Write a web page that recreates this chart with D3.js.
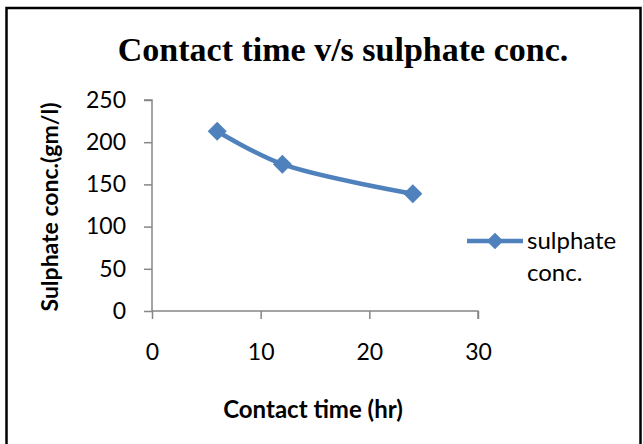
<!DOCTYPE html>
<html>
<head>
<meta charset="utf-8">
<script src="https://cdn.jsdelivr.net/npm/d3@7"></script>
<style>
  body { margin: 0; background: #ffffff; }
  svg { display: block; }
</style>
</head>
<body>
<div id="chart"></div>
<script>
"use strict";

const contactTime = [6, 12, 24];
const sulphateConc = [213, 174, 139];
const xTicks = [0, 10, 20, 30];
const yTicks = [0, 50, 100, 150, 200, 250];
const seriesName = ["sulphate", "conc."];

const blue = "#4F81BD";
const axisGrey = "#868686";
const labelFont = "Lato, 'Open Sans', sans-serif";

const svg = d3.select("#chart")
    .append("svg")
    .attr("width", 643)
    .attr("height", 444);

// chart frame (runs off the bottom of the picture)
svg.append("rect")
    .attr("x", 6.5)
    .attr("y", 8)
    .attr("width", 634)
    .attr("height", 460)
    .attr("fill", "#ffffff")
    .attr("stroke", "#000")
    .attr("stroke-width", 2.5);

svg.append("text")
    .attr("x", 343)
    .attr("y", 61)
    .attr("text-anchor", "middle")
    .attr("font-family", "'Liberation Serif', 'Times New Roman', serif")
    .attr("font-weight", "bold")
    .attr("font-size", 34)
    .text("Contact time v/s sulphate conc.");

const x = d3.scaleLinear()
    .domain([0, 30])
    .range([152, 478]);

const y = d3.scaleLinear()
    .domain([0, 250])
    .range([311, 100]);

// y axis
const yAxis = svg.append("g")
    .attr("transform", "translate(" + x(0) + ",0)")
    .call(d3.axisLeft(y).tickValues(yTicks).tickSize(8).tickPadding(18).tickFormat(d3.format("d")));

// x axis
const xAxis = svg.append("g")
    .attr("transform", "translate(0," + y(0) + ")")
    .call(d3.axisBottom(x).tickValues(xTicks).tickSize(8).tickPadding(25).tickFormat(d3.format("d")));

[xAxis, yAxis].forEach(function(a) {
    a.select(".domain").attr("stroke", axisGrey).attr("stroke-width", 1.5);
    a.selectAll(".tick line").attr("stroke", axisGrey).attr("stroke-width", 1.5);
    a.selectAll(".tick text")
        .attr("fill", "#000")
        .attr("font-family", labelFont)
        .attr("font-size", 23);
});

yAxis.select(".domain").attr("d", "M-8," + y(250) + "H0V" + y(0));
xAxis.select(".domain").attr("d", "M" + x(0) + ",0H" + x(30) + "V8");

svg.append("text")
    .attr("transform", "translate(58,207) rotate(-90)")
    .attr("text-anchor", "middle")
    .attr("font-family", labelFont)
    .attr("font-weight", "bold")
    .attr("font-size", 23)
    .text("Sulphate conc.(gm/l)");

svg.append("text")
    .attr("x", 313)
    .attr("y", 418)
    .attr("text-anchor", "middle")
    .attr("font-family", labelFont)
    .attr("font-weight", "bold")
    .attr("font-size", 24)
    .text("Contact time (hr)");

// series
const points = contactTime.map(function(d, i) { return [d, sulphateConc[i]]; });

svg.append("path")
    .datum(points)
    .attr("fill", "none")
    .attr("stroke", blue)
    .attr("stroke-width", 4.5)
    .attr("stroke-linejoin", "round")
    .attr("d", d3.line()
        .curve(d3.curveCatmullRom.alpha(0.5))
        .x(function(d) { return x(d[0]); })
        .y(function(d) { return y(d[1]); })
    );

const diamond = d3.symbol().type(d3.symbolSquare).size(180);

svg.selectAll(".marker")
    .data(points)
    .enter()
    .append("path")
    .attr("class", "marker")
    .attr("d", diamond)
    .attr("fill", blue)
    .attr("transform", function(d) { return "translate(" + x(d[0]) + "," + y(d[1]) + ") rotate(45)"; });

// legend
const legend = svg.append("g").attr("class", "legend");

legend.append("line")
    .attr("x1", 467)
    .attr("x2", 523)
    .attr("y1", 241)
    .attr("y2", 241)
    .attr("stroke", blue)
    .attr("stroke-width", 4.5);

legend.append("path")
    .attr("d", d3.symbol().type(d3.symbolSquare).size(140))
    .attr("fill", blue)
    .attr("transform", "translate(495,241) rotate(45)");

legend.selectAll(".legend-text")
    .data(seriesName)
    .enter()
    .append("text")
    .attr("class", "legend-text")
    .attr("x", 527)
    .attr("y", function(d, i) { return 249 + i * 32; })
    .attr("font-family", labelFont)
    .attr("font-size", 24)
    .text(function(d) { return d; });
</script>
</body>
</html>
